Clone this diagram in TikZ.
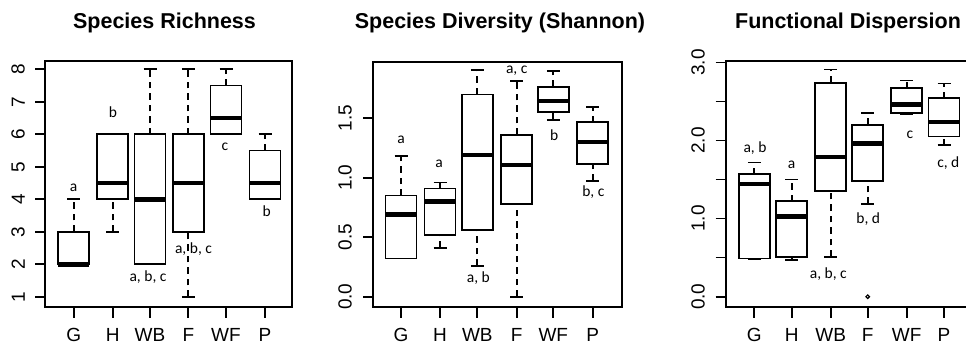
\documentclass[tikz,border=0pt]{standalone}
\usepackage{fontspec}
\setmainfont{Liberation Sans}
\newfontfamily\lettfont{Carlito}
\usetikzlibrary{positioning}
\tikzstyle{frame} = [line width=1.7pt]
\tikzstyle{tick} = [line width=1.7pt]
\tikzstyle{boxline} = [line width=1.7pt]
\tikzstyle{whisker} = [line width=1.8pt, dash pattern=on 6.5pt off 5pt]
\tikzstyle{medline} = [line width=4.5pt]
\tikzstyle{paneltitle} = [font=\fontsize{21.5}{24}\selectfont\bfseries, anchor=base, inner sep=0pt]
\tikzstyle{ticklab} = [font=\fontsize{19}{21}\selectfont, inner sep=0pt]
\tikzstyle{letters} = [font=\lettfont\fontsize{15.5}{17}\selectfont, anchor=base, inner sep=0pt]
% #1 x, #2 low whisker, #3 lower hinge, #4 median, #5 upper hinge, #6 high whisker
\newcommand{\bxplot}[6]{%
  \draw[whisker] (#1,#2) -- (#1,#3) (#1,#5) -- (#1,#6);
  \draw[boxline] ({#1-6.5},#2) -- ({#1+6.5},#2) ({#1-6.5},#6) -- ({#1+6.5},#6);
  \draw[boxline] ({#1-15.5},#3) rectangle ({#1+15.5},#5);
  \draw[medline] ({#1-15.5},#4) -- ({#1+15.5},#4);
}
\begin{document}
\begin{tikzpicture}[x=1pt,y=-1pt]
\useasboundingbox (0,0) rectangle (966,344);

% titles
\node[paneltitle] (t1) at (164.5,28.3) {Species Richness};
\node[paneltitle] (t2) at (500,28.3) {Species Diversity (Shannon)};
\node[paneltitle] (t3) at (848,28.3) {Functional Dispersion};

% richness
\draw[frame] (45,61) rectangle (292,307.3);
\foreach \lab/\xx in {G/73.7,H/112.7,WB/150,F/188.3,WF/226,P/265}{
  \draw[tick] (\xx,307.3) -- (\xx,318);
  \node[ticklab, anchor=base] (xa-\lab) at (\xx,341.7) {\lab};
}
\begin{scope}[shift={(0pt,-329.3pt)}, y=32.5pt]
  \foreach \v in {1,...,8}{
    \draw[tick] (35,\v) -- (45,\v);
    \node[ticklab, rotate=90, anchor=south] (ya-\v) at (25,\v) {\v};
  }
  \bxplot{73.7}{2}{2}{2}{3}{4}
  \bxplot{112.7}{3}{4}{4.5}{6}{6}
  \bxplot{150}{2}{2}{4}{6}{8}
  \bxplot{188.3}{1}{3}{4.5}{6}{8}
  \bxplot{226}{6}{6}{6.5}{7.5}{8}
  \bxplot{265}{4}{4}{4.5}{5.5}{6}
\end{scope}
\node[letters] (la-G) at (73.7,192) {a};
\node[letters] (la-H) at (113,118) {b};
\node[letters] (la-WB) at (148,282) {a, b, c};
\node[letters] (la-F) at (193.5,254) {a, b, c};
\node[letters] (la-WF) at (225,151) {c};
\node[letters] (la-P) at (266.7,216.5) {b};

% shannon
\draw[frame] (373.3,61.7) rectangle (621.7,307.3);
\foreach \lab/\xx in {G/401,H/440,WB/477.3,F/516.7,WF/553.3,P/592.7}{
  \draw[tick] (\xx,307.3) -- (\xx,318);
  \node[ticklab, anchor=base] (xb-\lab) at (\xx,341.7) {\lab};
}
\begin{scope}[shift={(0pt,-296.7pt)}, y=119pt]
  \foreach \v/\l [count=\i] in {0/0.0,0.5/0.5,1/1.0,1.5/1.5}{
    \draw[tick] (363.3,\v) -- (373.3,\v);
    \node[ticklab, rotate=90, anchor=south] (yb-\i) at (352,\v) {\l};
  }
  \bxplot{401}{0.32}{0.32}{0.69}{0.85}{1.18}
  \bxplot{440}{0.41}{0.52}{0.80}{0.91}{0.96}
  \bxplot{477.3}{0.26}{0.56}{1.19}{1.70}{1.905}
  \bxplot{516.7}{0}{0.78}{1.107}{1.36}{1.815}
  \bxplot{553.3}{1.485}{1.555}{1.645}{1.765}{1.897}
  \bxplot{592.7}{0.975}{1.115}{1.30}{1.466}{1.597}
\end{scope}
\node[letters] (lb-G) at (401,144) {a};
\node[letters] (lb-H) at (439,167.3) {a};
\node[letters] (lb-WB) at (478.3,282.3) {a, b};
\node[letters] (lb-F) at (516.7,74) {a, c};
\node[letters] (lb-WF) at (554.3,140.5) {b};
\node[letters] (lb-P) at (593.3,196.7) {b, c};

% dispersion
\draw[frame] (966,61) -- (725.7,61) -- (725.7,307.3) -- (966,307.3);
\foreach \lab/\xx in {G/754.3,H/791.7,WB/830.7,F/867.7,WF/906.7,P/944}{
  \draw[tick] (\xx,307.3) -- (\xx,318);
  \node[ticklab, anchor=base] (xc-\lab) at (\xx,341.7) {\lab};
}
\begin{scope}[shift={(0pt,-296.7pt)}, y=78.1pt]
  \foreach \v in {0,0.5,...,3}
    \draw[tick] (715.7,\v) -- (725.7,\v);
  \foreach \v/\l [count=\i] in {0/0.0,1/1.0,2/2.0,3/3.0}
    \node[ticklab, rotate=90, anchor=south] (yc-\i) at (705,\v) {\l};
  \bxplot{754.3}{0.48}{0.49}{1.44}{1.57}{1.72}
  \bxplot{791.7}{0.47}{0.51}{1.03}{1.225}{1.50}
  \bxplot{830.7}{0.51}{1.353}{1.79}{2.74}{2.91}
  \bxplot{867.7}{1.19}{1.48}{1.96}{2.20}{2.35}
  \bxplot{906.7}{2.335}{2.35}{2.46}{2.67}{2.77}
  \bxplot{944}{1.94}{2.05}{2.24}{2.54}{2.73}
  \draw[line width=1.2pt] (867.7,0) circle[radius=1.8pt];
\end{scope}
\node[letters] (lc-G) at (755,152.3) {a, b};
\node[letters] (lc-H) at (791.7,168.3) {a};
\node[letters] (lc-WB) at (828.3,278.3) {a, b, c};
\node[letters] (lc-F) at (868.3,223.3) {b, d};
\node[letters] (lc-WF) at (910,139) {c};
\node[letters] (lc-P) at (948.3,167.3) {c, d};
\end{tikzpicture}
\end{document}
